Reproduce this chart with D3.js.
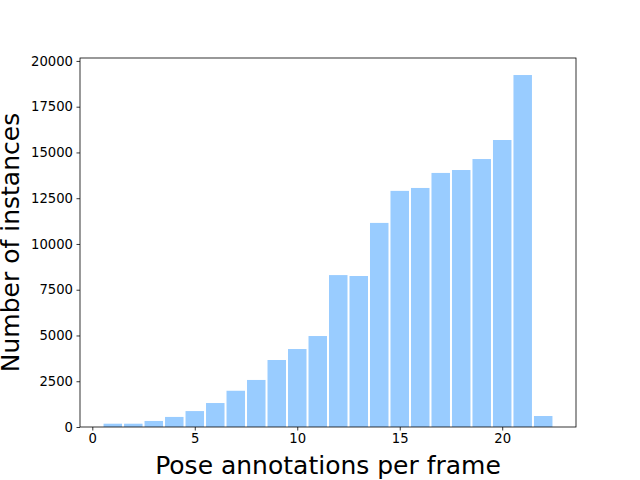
<!DOCTYPE html>
<html>
<head>
<meta charset="utf-8">
<script src="https://cdn.jsdelivr.net/npm/d3@7"></script>
<style>
  body { margin: 0; background: #fff; }
  text { font-family: "DejaVu Sans", sans-serif; }
</style>
</head>
<body>
<script>
let width = 640;
let height = 480;
let marges = { top: 58, right: 64, bottom: 53, left: 80 };

// bins (centre of each bin) and counts
let bins = [1, 2, 3, 4, 5, 6, 7, 8, 9, 10, 11, 12, 13, 14, 15, 16, 17, 18, 19, 20, 21, 22];
let counts = [180, 180, 330, 550, 870, 1310, 1980, 2570, 3660, 4260, 4970, 8300, 8250,
    11150, 12900, 13060, 13880, 14040, 14640, 15680, 19230, 600];
let xTicks = [0, 5, 10, 15, 20];
let yTicks = [0, 2500, 5000, 7500, 10000, 12500, 15000, 17500, 20000];

let w = width - marges.left - marges.right;
let h = height - marges.top - marges.bottom;

let svg = d3.select("body").append("svg")
    .attr("width", width)
    .attr("height", height);

let canevas = svg.append("g")
    .attr("transform", "translate(" + marges.left + "," + marges.top + ")");

let x = d3.scaleLinear().domain([-0.6, 23.6]).range([0, w]);
let y = d3.scaleLinear().domain([0, 20160]).range([h, 0]);

// barres
canevas.selectAll("rect.bar")
    .data(bins)
    .enter()
    .append("rect")
    .attr("class", "bar")
    .attr("x", d => x(d - 0.5) + 1)
    .attr("width", d => x(d + 0.5) - x(d - 0.5) - 2)
    .attr("y", (d, i) => y(counts[i]))
    .attr("height", (d, i) => h - y(counts[i]))
    .attr("fill", "#99ccff");

// axes
let xAxis = canevas.append("g")
    .attr("transform", "translate(0," + h + ")")
    .call(d3.axisBottom(x).tickValues(xTicks).tickFormat(d3.format("d")).tickSize(3.5).tickPadding(3.5));

let yAxis = canevas.append("g")
    .call(d3.axisLeft(y).tickValues(yTicks).tickFormat(d3.format("d")).tickSize(3.5).tickPadding(3.5));

[xAxis, yAxis].forEach(a => {
    a.select(".domain").remove();
    a.selectAll("text").style("font-size", "13.2px").attr("fill", "#000")
        .style("font-family", "DejaVu Sans, sans-serif");
    a.selectAll("line").attr("stroke", "#000").attr("stroke-width", 0.8);
});

// cadre
canevas.append("rect")
    .attr("x", 0).attr("y", 0)
    .attr("width", w).attr("height", h)
    .attr("fill", "none")
    .attr("stroke", "#000")
    .attr("stroke-width", 0.8);

// titres des axes
svg.append("text")
    .attr("x", marges.left + w / 2)
    .attr("y", 474)
    .attr("text-anchor", "middle")
    .style("font-size", "25px")
    .text("Pose annotations per frame");

svg.append("text")
    .attr("transform", "translate(19," + (marges.top + h / 2) + ") rotate(-90)")
    .attr("text-anchor", "middle")
    .style("font-size", "25px")
    .text("Number of instances");
</script>
</body>
</html>
